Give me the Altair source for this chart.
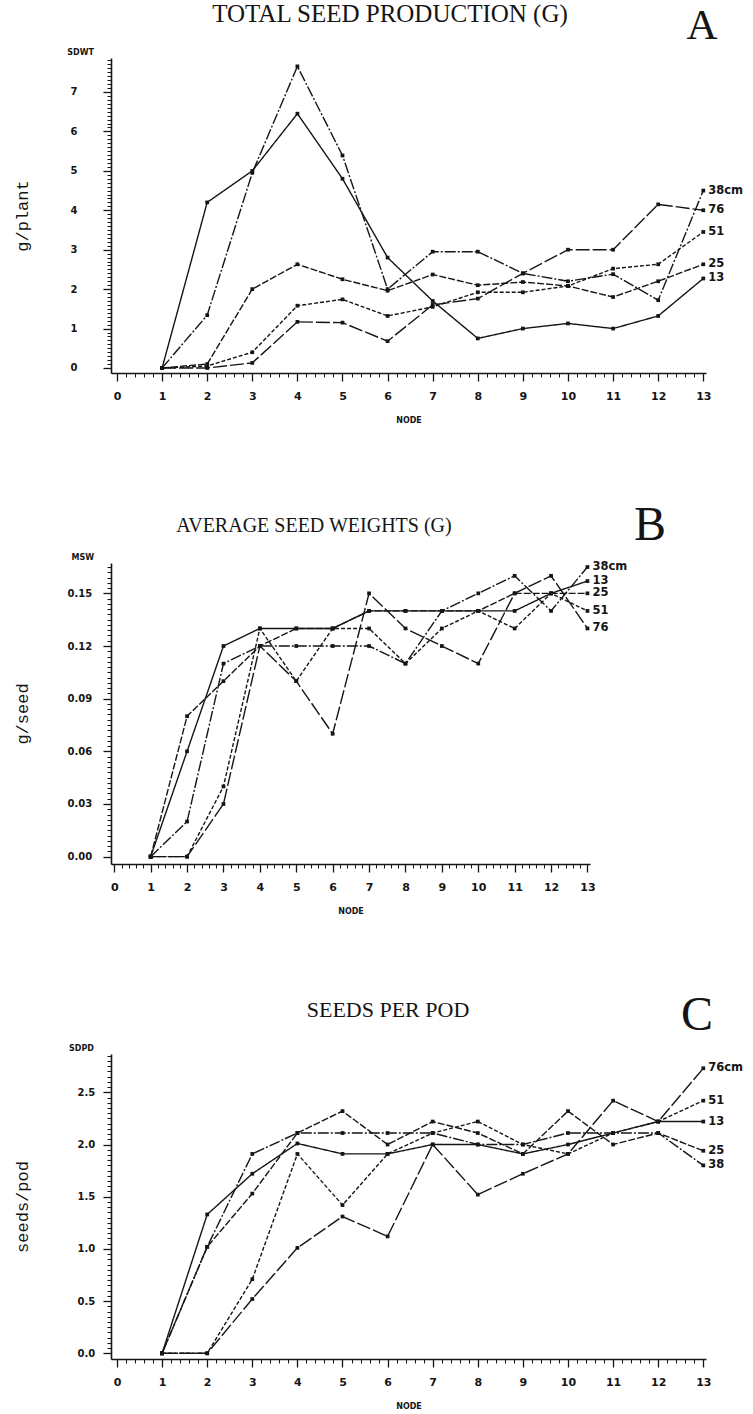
import altair as alt
import pandas as pd

INK = "#151515"
NODES = list(range(1, 14))
SPACINGS = ["13", "25", "38", "51", "76"]
DASHES = [[1, 0], [7, 2], [11, 2, 2, 2], [4, 2], [14, 3]]

# A: total seed production (g/plant) per node, one list per row spacing (cm)
sdwt_13 = [0, 4.2, 5.0, 6.45, 4.8, 2.8, 1.7, 0.75, 1.0, 1.13, 1.0, 1.32, 2.27]
sdwt_25 = [0, 0.1, 2.0, 2.63, 2.25, 1.96, 2.37, 2.1, 2.18, 2.08, 1.8, 2.2, 2.63]
sdwt_38 = [0, 1.34, 4.95, 7.65, 5.39, 2.0, 2.95, 2.95, 2.4, 2.2, 2.38, 1.72, 4.5]
sdwt_51 = [0, 0.05, 0.4, 1.58, 1.74, 1.32, 1.55, 1.92, 1.92, 2.08, 2.52, 2.63, 3.45]
sdwt_76 = [0, 0, 0.13, 1.17, 1.15, 0.68, 1.6, 1.76, 2.4, 3.0, 3.0, 4.15, 4.0]

# B: average seed weight (g/seed)
msw_13 = [0, 0.06, 0.12, 0.13, 0.13, 0.13, 0.14, 0.14, 0.14, 0.14, 0.14, 0.15, 0.157]
msw_25 = [0, 0.08, 0.10, 0.12, 0.13, 0.13, 0.14, 0.14, 0.14, 0.14, 0.15, 0.15, 0.15]
msw_38 = [0, 0.02, 0.11, 0.12, 0.12, 0.12, 0.12, 0.11, 0.14, 0.15, 0.16, 0.14, 0.165]
msw_51 = [0, 0, 0.04, 0.13, 0.10, 0.13, 0.13, 0.11, 0.13, 0.14, 0.13, 0.15, 0.14]
msw_76 = [0, 0, 0.03, 0.12, 0.10, 0.07, 0.15, 0.13, 0.12, 0.11, 0.15, 0.16, 0.13]

# C: seeds per pod
sdpd_13 = [0, 1.33, 1.72, 2.01, 1.91, 1.91, 2.0, 2.0, 1.91, 2.0, 2.11, 2.22, 2.22]
sdpd_25 = [0, 1.02, 1.53, 2.11, 2.32, 2.0, 2.22, 2.11, 1.91, 2.32, 2.0, 2.11, 1.94]
sdpd_38 = [0, 1.02, 1.91, 2.11, 2.11, 2.11, 2.11, 2.0, 2.0, 2.11, 2.11, 2.11, 1.80]
sdpd_51 = [0, 0, 0.71, 1.91, 1.42, 1.91, 2.11, 2.22, 2.0, 1.91, 2.11, 2.22, 2.42]
sdpd_76 = [0, 0, 0.52, 1.01, 1.31, 1.12, 2.0, 1.52, 1.72, 1.91, 2.42, 2.22, 2.73]

LABELS_AB = {"13": "13", "25": "25", "38": "38cm", "51": "51", "76": "76"}
LABELS_C = {"13": "13", "25": "25", "38": "38", "51": "51", "76": "76cm"}

TICK_FONT = "DejaVu Sans"


def frange(start, stop, step):
    out, i = [], 0
    while True:
        v = round(start + i * step, 6)
        if v > stop + 1e-9:
            break
        out.append(v)
        i += 1
    return out


def panel(series, labels, xdom, ydom, ymajor, yminor, yfmt, lab_pad,
          width, height, ytitle, code, heading, head_x, head_y, head_size,
          letter, letter_x, letter_y, letter_size, anchor=False):
    rows = []
    for s in SPACINGS:
        for n, v in zip(NODES, series[s]):
            rows.append({"node": n, "value": v, "spacing": s})
    df = pd.DataFrame(rows)
    ends = df[df["node"] == 13].copy()
    ends["label"] = ends["spacing"].map(labels)

    xs = alt.Scale(domain=xdom, nice=False, zero=False)
    ys = alt.Scale(domain=ydom, nice=False, zero=False)
    base = alt.Chart(df)

    x_main = alt.Axis(
        orient="bottom", values=list(range(14)), format="d", grid=False,
        tickSize=8, tickWidth=1.3, domainWidth=1.6, labelPadding=9,
        labelFont=TICK_FONT, labelFontSize=11, labelFontWeight="bold",
        title="NODE", titleFont=TICK_FONT, titleFontSize=8, titleFontWeight="bold",
        titleY=47, titleBaseline="middle")
    y_main = alt.Axis(
        orient="left", values=ymajor, format=yfmt, grid=False,
        tickSize=8, tickWidth=1.3, domainWidth=1.6, labelPadding=lab_pad,
        labelAlign="left", labelBaseline="middle",
        labelFont=TICK_FONT, labelFontSize=10, labelFontWeight="bold",
        title=ytitle, titleFont="Liberation Mono", titleFontSize=17,
        titleFontWeight="normal", titleAngle=270, titleX=-89, titleY=height / 2,
        titleAlign="center", titleBaseline="middle")
    x_minor = alt.Axis(orient="bottom", values=frange(0, 13, 0.2), labels=False,
                       tickSize=4, tickWidth=1, domain=False, grid=False, title=None)
    y_minor = alt.Axis(orient="left", values=yminor, labels=False,
                       tickSize=4, tickWidth=1, domain=False, grid=False, title=None)

    dash = alt.StrokeDash("spacing:N", legend=None,
                          scale=alt.Scale(domain=SPACINGS, range=DASHES))

    minor = base.mark_point(opacity=0).encode(
        x=alt.X("node:Q", scale=xs, axis=x_minor),
        y=alt.Y("value:Q", scale=ys, axis=y_minor))
    lines = base.mark_line(color=INK, strokeWidth=1.4).encode(
        x=alt.X("node:Q", scale=xs, axis=x_main),
        y=alt.Y("value:Q", scale=ys, axis=y_main),
        strokeDash=dash)
    points = base.mark_point(filled=True, shape="square", size=14, color=INK,
                             opacity=1).encode(
        x=alt.X("node:Q", scale=xs, axis=None),
        y=alt.Y("value:Q", scale=ys, axis=None))
    end_labels = alt.Chart(ends).mark_text(
        align="left", baseline="middle", dx=5, font=TICK_FONT, fontSize=11.5,
        fontWeight="bold", color=INK).encode(
        x=alt.X("node:Q", scale=xs, axis=None),
        y=alt.Y("value:Q", scale=ys, axis=None),
        text="label:N")

    head = alt.Chart(pd.DataFrame({"t": [heading]})).mark_text(
        font="Liberation Serif", fontSize=head_size, align="center",
        baseline="alphabetic", color=INK).encode(
        text="t:N", x=alt.value(head_x), y=alt.value(head_y))
    big = alt.Chart(pd.DataFrame({"t": [letter]})).mark_text(
        font="Liberation Serif", fontSize=letter_size, align="center",
        baseline="alphabetic", color=INK).encode(
        text="t:N", x=alt.value(letter_x), y=alt.value(letter_y))
    var_code = alt.Chart(pd.DataFrame({"t": [code]})).mark_text(
        font=TICK_FONT, fontSize=8, fontWeight="bold", align="right",
        baseline="middle", color=INK).encode(
        text="t:N", x=alt.value(-17), y=alt.value(-5))

    layers = [minor, lines, points, end_labels, head, big, var_code]
    if anchor:
        layers.append(alt.Chart(pd.DataFrame({"t": [0]})).mark_rule(opacity=0).encode(
            x=alt.value(-111), x2=alt.value(-110), y=alt.value(-58), y2=alt.value(-58)))
    return alt.layer(*layers).resolve_axis(x="independent", y="independent").properties(
        width=width, height=height)


panel_a = panel(
    {"13": sdwt_13, "25": sdwt_25, "38": sdwt_38, "51": sdwt_51, "76": sdwt_76},
    LABELS_AB, [-0.133, 13.06], [-0.127, 7.862], list(range(8)),
    frange(0, 7.8, 0.1), "d", 33, 595, 315, "g/plant", "SDWT",
    "TOTAL SEED PRODUCTION (G)", 279, -36, 25, "A", 591, -19, 43, anchor=True)

panel_b = panel(
    {"13": msw_13, "25": msw_25, "38": msw_38, "51": msw_51, "76": msw_76},
    LABELS_AB, [-0.09, 13.07], [-0.0042, 0.1673], [0, 0.03, 0.06, 0.09, 0.12, 0.15],
    frange(0, 0.165, 0.003), ".2f", 36, 479, 301, "g/seed", "MSW",
    "AVERAGE SEED WEIGHTS (G)", 203, -31, 20, "B", 539, -23, 48)

panel_c = panel(
    {"13": sdpd_13, "25": sdpd_25, "38": sdpd_38, "51": sdpd_51, "76": sdpd_76},
    LABELS_C, [-0.133, 13.06], [-0.0546, 2.867], [0, 0.5, 1.0, 1.5, 2.0, 2.5],
    frange(0, 2.85, 0.05), ".1f", 26, 595, 305, "seeds/pod", "SDPD",
    "SEEDS PER POD", 277, -37, 22, "C", 586, -24, 48)

chart = alt.vconcat(panel_a, panel_b, panel_c, spacing=190, bounds="flush").properties(
    padding={"left": 0, "top": 0, "right": 4, "bottom": 4}
).configure_view(stroke=None).configure_axis(
    domainColor=INK, tickColor=INK, labelColor=INK, titleColor=INK
)

chart.save("out.html", embed_options={"renderer": "svg", "actions": False})
